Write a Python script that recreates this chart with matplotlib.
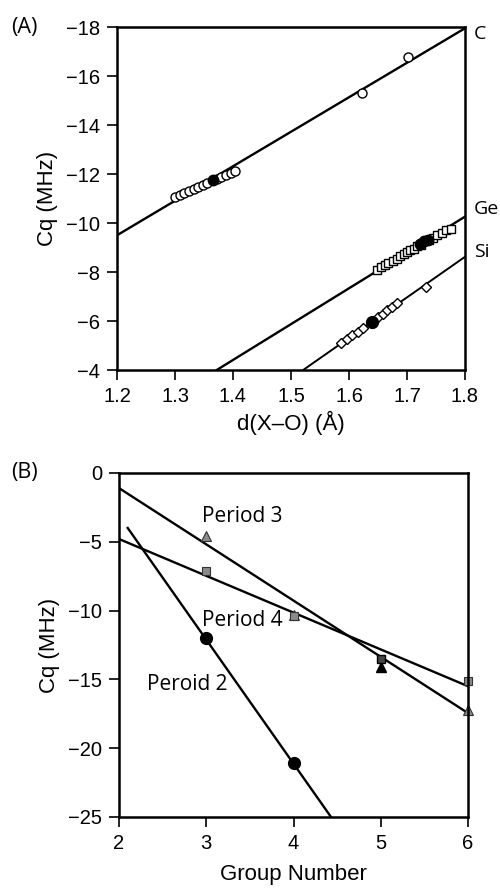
import matplotlib
matplotlib.use("Agg")
import matplotlib.pyplot as plt

# ---- panel A data: Cq vs d(X-O) ----
c_d = [1.300, 1.308, 1.316, 1.324, 1.332, 1.340, 1.348, 1.356, 1.372, 1.380,
       1.388, 1.396, 1.403, 1.622, 1.702]
c_cq = [-11.05, -11.15, -11.22, -11.30, -11.38, -11.45, -11.55, -11.62, -11.80,
        -11.88, -11.95, -12.05, -12.12, -15.32, -16.79]
c_filled_d = [1.366]
c_filled_cq = [-11.75]

ge_d = [1.648, 1.655, 1.662, 1.668, 1.675, 1.682, 1.688, 1.694, 1.700, 1.706,
        1.712, 1.718, 1.724, 1.738, 1.745, 1.752, 1.760, 1.768, 1.775]
ge_cq = [-8.08, -8.20, -8.28, -8.38, -8.45, -8.55, -8.65, -8.72, -8.80, -8.88,
         -8.95, -9.05, -9.12, -9.30, -9.40, -9.50, -9.60, -9.70, -9.76]
ge_filled_d = [1.722, 1.730, 1.736]
ge_filled_cq = [-9.15, -9.25, -9.32]

si_d = [1.587, 1.597, 1.606, 1.615, 1.624, 1.650, 1.658, 1.666, 1.674, 1.682, 1.733]
si_cq = [-5.12, -5.28, -5.42, -5.55, -5.72, -6.15, -6.30, -6.45, -6.58, -6.75, -7.40]
si_filled_d = [1.640]
si_filled_cq = [-5.97]

c_fit_d = [1.2, 1.8]
c_fit_cq = [-9.5, -17.95]
ge_fit_d = [1.372, 1.8]
ge_fit_cq = [-4.0, -10.26]
si_fit_d = [1.521, 1.8]
si_fit_cq = [-4.0, -8.62]

# ---- panel B data: Cq vs group number ----
p2_group = [3, 4]
p2_cq = [-12.0, -21.1]
p3_group = [3, 4, 6]
p3_cq = [-4.6, -10.3, -17.2]
p4_group = [3, 4, 6]
p4_cq = [-7.1, -10.4, -15.15]
g5_group = [5]
g5_p3_cq = [-14.1]
g5_p4_cq = [-13.5]

p2_fit_g = [2.1, 4.43]
p2_fit_cq = [-4.0, -25.0]
p3_fit_g = [2, 6]
p3_fit_cq = [-1.1, -17.45]
p4_fit_g = [2, 6]
p4_fit_cq = [-4.8, -15.5]

tick_font = "Liberation Sans"
note_font = "Open Sans"

fig = plt.figure(figsize=(5, 8.89), dpi=100)


def style_axes(ax):
    for s in ax.spines.values():
        s.set_linewidth(1.8)
    ax.tick_params(direction="out", length=7, width=1.2, labelsize=14.5, pad=5)
    for lab in ax.get_xticklabels() + ax.get_yticklabels():
        lab.set_fontfamily(tick_font)


# ---- panel A ----
ax1 = fig.add_axes([0.234, 0.5838, 0.696, 0.3858])
ax1.plot(c_fit_d, c_fit_cq, color="black", lw=1.7)
ax1.plot(ge_fit_d, ge_fit_cq, color="black", lw=1.7)
ax1.plot(si_fit_d, si_fit_cq, color="black", lw=1.4)
ax1.plot(c_d, c_cq, "o", mfc="white", mec="black", ms=6.5, mew=1.0)
ax1.plot(ge_d, ge_cq, "s", mfc="white", mec="black", ms=6.0, mew=1.0)
ax1.plot(si_d, si_cq, "D", mfc="white", mec="black", ms=5.0, mew=1.0)
ax1.plot(c_filled_d, c_filled_cq, "o", color="black", ms=7.5)
ax1.plot(ge_filled_d, ge_filled_cq, "o", color="black", ms=7.5)
ax1.plot(si_filled_d, si_filled_cq, "o", color="black", ms=8.5)
ax1.set_xlim(1.2, 1.8)
ax1.set_ylim(-4, -18)
ax1.set_xticks([1.2, 1.3, 1.4, 1.5, 1.6, 1.7, 1.8])
ax1.set_yticks([-4, -6, -8, -10, -12, -14, -16, -18])
ax1.set_xlabel("d(X\u2013O) (\u00c5)", fontsize=16, family=tick_font, labelpad=4)
ax1.set_ylabel("Cq (MHz)", fontsize=16, family=tick_font, labelpad=6)
style_axes(ax1)
ax1.text(1.815, -17.7, "C", fontsize=14, family=note_font, va="center", ha="left", clip_on=False)
ax1.text(1.815, -10.57, "Ge", fontsize=14, family=note_font, va="center", ha="left", clip_on=False)
ax1.text(1.815, -8.83, "Si", fontsize=14, family=note_font, va="center", ha="left", clip_on=False)
fig.text(0.022, 0.969, "(A)", fontsize=15.5, family=note_font, va="center", ha="left")

# ---- panel B ----
ax2 = fig.add_axes([0.238, 0.081, 0.698, 0.387])
ax2.plot(p3_fit_g, p3_fit_cq, color="black", lw=1.7)
ax2.plot(p4_fit_g, p4_fit_cq, color="black", lw=1.7)
ax2.plot(p2_fit_g, p2_fit_cq, color="black", lw=1.7)
ax2.plot(p2_group, p2_cq, "o", color="black", ms=8.5, clip_on=False)
ax2.plot(p3_group, p3_cq, "^", mfc="#8a8a8a", mec="#333333", ms=6.5, mew=0.8, clip_on=False)
ax2.plot(p4_group, p4_cq, "s", mfc="#8a8a8a", mec="#333333", ms=5.5, mew=0.8, clip_on=False)
ax2.plot(g5_group, g5_p3_cq, "^", color="black", ms=7, clip_on=False)
ax2.plot(g5_group, g5_p4_cq, "s", mfc="#444444", mec="black", ms=6, clip_on=False)
ax2.set_xlim(2, 6)
ax2.set_ylim(-25, 0)
ax2.set_xticks([2, 3, 4, 5, 6])
ax2.set_yticks([-25, -20, -15, -10, -5, 0])
ax2.set_xlabel("Group Number", fontsize=16, family=tick_font, labelpad=8)
ax2.set_ylabel("Cq (MHz)", fontsize=16, family=tick_font, labelpad=6)
style_axes(ax2)
ax2.text(2.95, -3.2, "Period 3", fontsize=15, family=note_font, va="center", ha="left")
ax2.text(2.95, -10.7, "Period 4", fontsize=15, family=note_font, va="center", ha="left")
ax2.text(2.32, -15.4, "Peroid 2", fontsize=15, family=note_font, va="center", ha="left")
fig.text(0.022, 0.468, "(B)", fontsize=15.5, family=note_font, va="center", ha="left")

fig.savefig("out.png", dpi=100)
